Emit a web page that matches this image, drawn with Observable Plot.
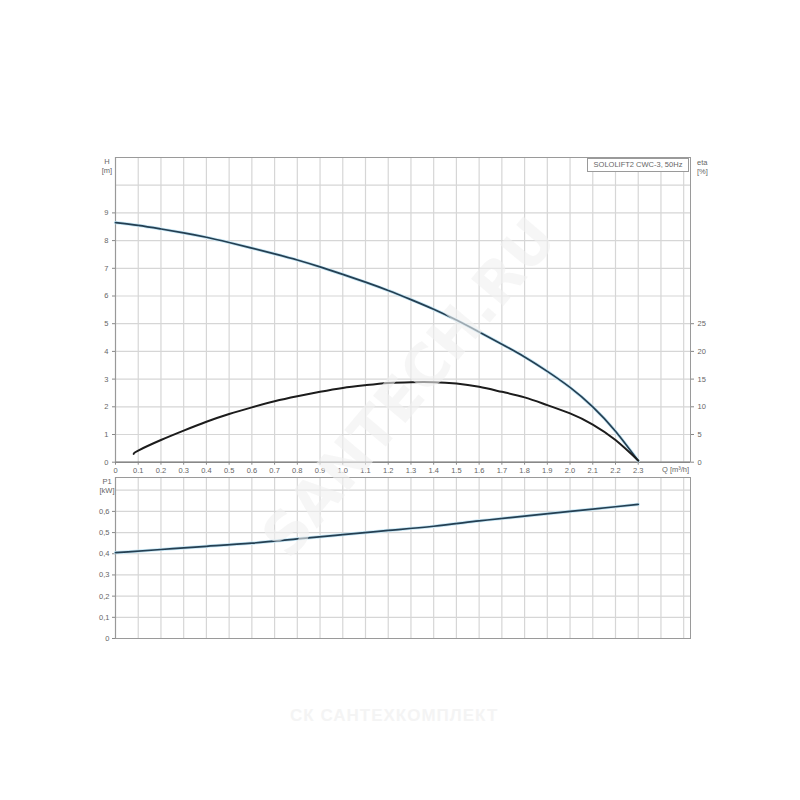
<!DOCTYPE html>
<html>
<head>
<meta charset="utf-8">
<script src="https://cdn.jsdelivr.net/npm/d3@7"></script>
<script src="https://cdn.jsdelivr.net/npm/@observablehq/plot@0.6"></script>
<style>
  html, body { margin: 0; padding: 0; background: #fff; }
  #wrap { position: relative; width: 800px; height: 800px; overflow: hidden; background: #fff;
          font-family: "Liberation Sans", Arial, sans-serif; }
  #wrap svg { position: absolute; left: 0; }
  .lbl { position: absolute; font-size: 7.5px; color: #666; line-height: 9px; white-space: nowrap; }
  #title { position: absolute; left: 587px; top: 158px; width: 100px; height: 12px; border: 1px solid #9a9a9a;
           font-size: 7.5px; color: #666; line-height: 12px; text-align: center; background: #fff; }
  #wm2 { position: absolute; left: 290px; top: 706px; font-size: 17px; font-weight: bold; color: #f4f4f4; letter-spacing: 1px; }
</style>
</head>
<body>
<div id="wrap"></div>
<script>
// ---- data ----
const Q_H = [0, 0.1, 0.2, 0.3, 0.4, 0.5, 0.6, 0.7, 0.8, 0.9, 1.0, 1.1, 1.2, 1.3, 1.4, 1.5, 1.6, 1.7, 1.8, 1.9, 2.0, 2.1, 2.2, 2.3];
const H   = [8.65, 8.55, 8.42, 8.28, 8.12, 7.93, 7.73, 7.52, 7.30, 7.05, 6.78, 6.50, 6.20, 5.87, 5.52, 5.13, 4.70, 4.26, 3.80, 3.28, 2.70, 2.00, 1.12, 0.05];

const Q_ETA = [0.08, 0.1, 0.2, 0.3, 0.4, 0.5, 0.6, 0.7, 0.8, 0.9, 1.0, 1.1, 1.2, 1.3, 1.4, 1.5, 1.6, 1.7, 1.8, 1.9, 2.0, 2.1, 2.2, 2.3];
const ETA   = [1.5, 2.1, 4.0, 5.7, 7.3, 8.7, 9.9, 11.0, 11.9, 12.7, 13.4, 13.9, 14.3, 14.45, 14.45, 14.2, 13.6, 12.7, 11.7, 10.3, 8.8, 6.8, 4.0, 0.3];

const Q_P1 = [0, 0.2, 0.4, 0.6, 0.8, 1.0, 1.2, 1.4, 1.6, 1.8, 2.0, 2.2, 2.3];
const P1   = [0.405, 0.42, 0.435, 0.45, 0.47, 0.49, 0.51, 0.53, 0.555, 0.578, 0.60, 0.622, 0.633];

const Q_TICKS   = [0, 0.1, 0.2, 0.3, 0.4, 0.5, 0.6, 0.7, 0.8, 0.9, 1.0, 1.1, 1.2, 1.3, 1.4, 1.5, 1.6, 1.7, 1.8, 1.9, 2.0, 2.1, 2.2, 2.3];
const Q_GRID    = [0.1, 0.2, 0.3, 0.4, 0.5, 0.6, 0.7, 0.8, 0.9, 1.0, 1.1, 1.2, 1.3, 1.4, 1.5, 1.6, 1.7, 1.8, 1.9, 2.0, 2.1, 2.2, 2.3, 2.4, 2.5];
const H_TICKS   = [0, 1, 2, 3, 4, 5, 6, 7, 8, 9];
const H_GRID    = [1, 2, 3, 4, 5, 6, 7, 8, 9, 10];
const ETA_TICKS = [0, 5, 10, 15, 20, 25];
const ETA_PER_H = 5;   // right axis: 5 % per 1 m
const P1_TICKS  = [0, 0.1, 0.2, 0.3, 0.4, 0.5, 0.6];
const P1_GRID   = [0.1, 0.2, 0.3, 0.4, 0.5, 0.6, 0.7];

const TITLE = "SOLOLIFT2 CWC-3, 50Hz";

const hData   = Q_H.map((q, i) => ({q, h: H[i]}));
const etaData = Q_ETA.map((q, i) => ({q, eta: ETA[i]}));
const p1Data  = Q_P1.map((q, i) => ({q, p: P1[i]}));

const font = {background: "transparent", fontFamily: "'Liberation Sans', Arial, sans-serif", fontSize: "7.5px", color: "#666", overflow: "visible"};
const GRID = "#d6d6d6";
const FRAME = "#9a9a9a";
const HALO = "#c4e5f4";
const LINE = "#243f52";
const fmtQ = d => d === 0 ? "0" : d.toFixed(1);
const fmtP = d => d === 0 ? "0" : d.toFixed(1).replace(".", ",");

const upper = Plot.plot({
  width: 800, height: 476,
  marginLeft: 115, marginRight: 110, marginTop: 157, marginBottom: 14.3,
  x: {domain: [0, 2.53]},
  y: {domain: [0, 11]},
  style: font,
  marks: [
    Plot.ruleX(Q_GRID, {stroke: GRID, strokeWidth: 1.2}),
    Plot.ruleY(H_GRID, {stroke: GRID, strokeWidth: 1.2}),
    Plot.frame({stroke: FRAME}),
    Plot.ruleY([0], {stroke: "#888", strokeWidth: 1.6}),
    Plot.ruleX([0], {stroke: "#999", strokeWidth: 1.2}),
    Plot.axisX(Q_TICKS, {tickFormat: fmtQ, tickSize: 3, tickPadding: 2, stroke: "#888", label: null}),
    Plot.axisY(H_TICKS, {anchor: "left", tickSize: 3, tickPadding: 4, stroke: "#888", label: null}),
    Plot.axisY(ETA_TICKS.map(v => v / ETA_PER_H), {anchor: "right", tickFormat: d => Math.round(d * ETA_PER_H), tickSize: 3, tickPadding: 4, stroke: "#888", label: null}),
    Plot.line(hData, {x: "q", y: "h", curve: "natural", stroke: HALO, strokeWidth: 3.2}),
    Plot.line(hData, {x: "q", y: "h", curve: "natural", stroke: LINE, strokeWidth: 1.7}),
    Plot.line(etaData, {x: "q", y: d => d.eta / ETA_PER_H, curve: "natural", stroke: "#1c1c1c", strokeWidth: 2})
  ]
});
upper.style.top = "0px";

const lower = Plot.plot({
  width: 800, height: 176,
  marginLeft: 115, marginRight: 110, marginTop: 1, marginBottom: 14,
  x: {domain: [0, 2.53], axis: null},
  y: {domain: [0, 0.76]},
  style: font,
  marks: [
    Plot.ruleX(Q_GRID, {stroke: GRID, strokeWidth: 1.2}),
    Plot.ruleY(P1_GRID, {stroke: GRID, strokeWidth: 1.2}),
    Plot.frame({stroke: FRAME}),
    Plot.ruleX([0], {stroke: "#999", strokeWidth: 1.2}),
    Plot.axisY(P1_TICKS, {anchor: "left", tickFormat: fmtP, tickSize: 3, tickPadding: 3, stroke: "#888", label: null}),
    Plot.line(p1Data, {x: "q", y: "p", curve: "natural", stroke: HALO, strokeWidth: 3.2}),
    Plot.line(p1Data, {x: "q", y: "p", curve: "natural", stroke: LINE, strokeWidth: 1.7})
  ]
});
lower.style.top = "476px";

const wrap = document.getElementById("wrap");
wrap.appendChild(upper);
wrap.appendChild(lower);

function label(text, left, top, align) {
  const d = document.createElement("div");
  d.className = "lbl";
  d.textContent = text;
  d.style.left = left + "px";
  d.style.top = top + "px";
  if (align === "center") d.style.transform = "translateX(-50%)";
  wrap.appendChild(d);
}
label("H", 107, 157, "center");
label("[m]", 107, 166, "center");
label("eta", 697, 158);
label("[%]", 697, 167);
label("P1", 107, 477, "center");
label("[kW]", 107, 486, "center");
label("Q [m³/h]", 662, 465);

const t = document.createElement("div");
t.id = "title";
t.textContent = TITLE;
wrap.appendChild(t);

// faint watermarks of the source image
const wm = document.createElementNS("http://www.w3.org/2000/svg", "svg");
wm.setAttribute("width", 800); wm.setAttribute("height", 800);
wm.style.position = "absolute"; wm.style.top = "0px"; wm.style.left = "0px"; wm.style.pointerEvents = "none";
const wt = document.createElementNS("http://www.w3.org/2000/svg", "text");
wt.setAttribute("x", 0); wt.setAttribute("y", 0);
wt.setAttribute("transform", "translate(412,390) rotate(-50)");
wt.setAttribute("text-anchor", "middle");
wt.setAttribute("dominant-baseline", "middle");
wt.setAttribute("font-family", "'DejaVu Sans', sans-serif");
wt.setAttribute("font-weight", "bold");
wt.setAttribute("font-size", "58");
wt.setAttribute("fill", "#f0f0f0");
wt.setAttribute("fill-opacity", "0.6");
wt.textContent = "SANTECH.RU";
wm.appendChild(wt);
wrap.appendChild(wm);

const wm2 = document.createElement("div");
wm2.id = "wm2";
wm2.textContent = "СК САНТЕХКОМПЛЕКТ";
wrap.appendChild(wm2);
</script>
</body>
</html>
